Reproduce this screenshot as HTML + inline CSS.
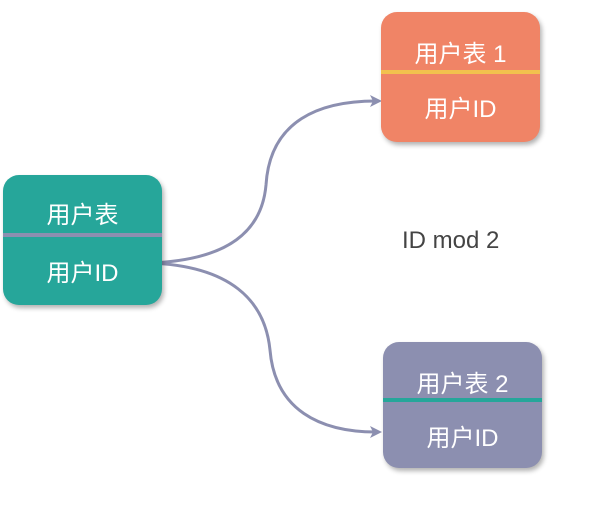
<html><head><style>
body{margin:0;width:612px;height:529px;background:#fff;position:relative;overflow:hidden;font-family:"Liberation Sans","Noto Sans CJK SC",sans-serif}
.b{position:absolute;width:159px;height:130px;border-radius:16px;box-shadow:2px 3px 5px rgba(0,0,0,.3);color:#fff;font-size:24px;overflow:hidden}
.b div{position:absolute;left:0;right:0;text-align:center}
.t{position:absolute;font-size:24px;color:#444}
</style></head><body>
<svg width="612" height="529" style="position:absolute;left:0;top:0">
<path d="M150 263 C230 260 262 230 266 185 C270 120 320 101 376 101" stroke="#8c8fb0" stroke-width="3" fill="none"/>
<path d="M150 263 C230 266 265 300 270 350 C275 410 320 432 376 432" stroke="#8c8fb0" stroke-width="3" fill="none"/>
<polygon points="382,101 370,95 373,101 370,107" fill="#8c8fb0"/>
<polygon points="382,432 370,426 373,432 370,438" fill="#8c8fb0"/>
</svg>
<div class="b" style="left:3px;top:175px;background:#26a69a">
<div style="top:20px">用户表</div>
<div style="top:58px;height:4px;background:#8c8fb0"></div>
<div style="top:78px">用户ID</div></div>
<div class="b" style="left:381px;top:12px;background:#f08466">
<div style="top:22px">用户表 1</div>
<div style="top:58px;height:4px;background:#f2c14e"></div>
<div style="top:77px">用户ID</div></div>
<div class="b" style="left:383px;top:342px;height:126px;background:#8c8fb0">
<div style="top:22px">用户表 2</div>
<div style="top:56px;height:4px;background:#26a69a"></div>
<div style="top:76px">用户ID</div></div>
<div class="t" style="left:402px;top:227px">ID mod 2</div>
</body></html>
